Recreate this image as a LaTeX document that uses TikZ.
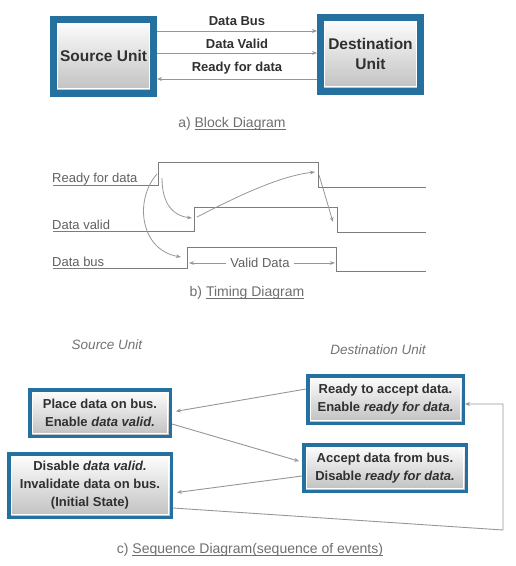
\documentclass[tikz,border=0pt]{standalone}
\usepackage{fontspec}
\setmainfont{Liberation Sans}
\usetikzlibrary{arrows.meta}
\definecolor{bbord}{HTML}{24709F}
\definecolor{txt}{HTML}{303030}
\definecolor{lbl}{HTML}{606060}
\definecolor{capc}{HTML}{6E6E6E}
\definecolor{wire}{HTML}{969696}
\definecolor{wavec}{HTML}{7C7C7C}
\newcommand\myul[1]{\setbox0\hbox{#1}\rlap{\rule[-1.6pt]{\wd0}{0.5pt}}\box0}
\tikzset{
  unitbox/.style={draw=bbord, line width=7pt, top color=white, bottom color=black!25,
    minimum width=100pt, minimum height=74pt, inner sep=0pt, align=center, text=txt,
    font=\fontsize{15.5}{20}\selectfont\bfseries,
    path picture={\draw[white, line width=1.2pt]
      ([shift={(4.2pt,-4.2pt)}]path picture bounding box.north west) rectangle
      ([shift={(-4.2pt,4.2pt)}]path picture bounding box.south east);}},
  seqbox/.style={draw=bbord, line width=3.5pt, top color=white, bottom color=black!25,
    inner sep=0pt, align=center, text=txt,
    font=\fontsize{13}{18}\selectfont\bfseries,
    path picture={\draw[white, line width=1pt]
      ([shift={(2.4pt,-2.4pt)}]path picture bounding box.north west) rectangle
      ([shift={(-2.4pt,2.4pt)}]path picture bounding box.south east);}},
  conn/.style={draw=wire, line width=0.9pt, -{Stealth[length=5pt,width=4pt]}},
  wlabel/.style={text=txt, font=\fontsize{13}{15}\selectfont\bfseries, inner sep=0pt},
  sig/.style={text=lbl, font=\fontsize{13}{15}\selectfont, inner sep=0pt},
  capt/.style={text=capc, font=\fontsize{14}{16}\selectfont, inner sep=0pt},
  unitlbl/.style={text=black!55, font=\fontsize{13.5}{16}\selectfont\itshape, inner sep=0pt},
  wave/.style={draw=wavec, line width=0.9pt},
  tarrow/.style={draw=wire, line width=0.8pt, -{Stealth[length=5pt,width=3.6pt]}}
}
\begin{document}
\begin{tikzpicture}[x=1pt, y=-1pt]
\useasboundingbox (0,0) rectangle (516,566);

% ---------- a) Block diagram ----------
\node[unitbox] (src) at (103.5,56) {Source Unit};
\node[unitbox] (dst) at (370.5,54) {Destination\\Unit};
\node[wlabel] (lbus) at (237,21) {Data Bus};
\node[wlabel] (lvalid) at (237,44) {Data Valid};
\node[wlabel] (lready) at (237,68) {Ready for data};
\draw[conn] (src.east |- 0,31) -- (dst.west |- 0,31);
\draw[conn] (src.east |- 0,53) -- (dst.west |- 0,53);
\draw[conn] (dst.west |- 0,79) -- (src.east |- 0,79);
\node[capt] (capa) at (232,124) {a) \myul{Block Diagram}};

% ---------- b) Timing diagram ----------
\node[sig, anchor=base west] (nready) at (52,182.5) {Ready for data};
\node[sig, anchor=base west] (nvalid) at (52,229) {Data valid};
\node[sig, anchor=base west] (nbus) at (52,266.5) {Data bus};

\coordinate (rrise) at (158,162);
\coordinate (rfall) at (318,162);
\coordinate (vrise) at (194,207);
\coordinate (vfall) at (337,207);
\coordinate (brise) at (187,247);
\coordinate (bfall) at (336,247);

\draw[wave] (53,185) -- (158,185) -- (rrise) -- (rfall) -- (318,187) -- (426,187);
\draw[wave] (53,231) -- (194,231) -- (vrise) -- (vfall) -- (337,232) -- (426,232);
\draw[wave] (53,268) -- (187,268) -- (brise) -- (bfall) -- (336,271) -- (426,271);

\node[sig] (vd) at (260,263) {Valid Data};
\coordinate (vdl) at (189,263);
\coordinate (vdr) at (335,263);
\draw[tarrow] (vd.west) ++(-4pt,0) -- (vdl);
\draw[tarrow] (vd.east) ++(4pt,0) -- (vdr);

\coordinate (a1s) at (157,174);
\coordinate (a1e) at (181,257);
\coordinate (a2s) at (162,178);
\coordinate (a2e) at (192,218);
\coordinate (a3s) at (197,217);
\coordinate (a3e) at (315,172);
\coordinate (a4s) at (319,175);
\coordinate (a4e) at (333,222);
\draw[tarrow] (a1s) .. controls (134,200) and (140,250) .. (a1e);
\draw[tarrow] (a2s) .. controls (162,205) and (174,216) .. (a2e);
\draw[tarrow] (a3s) .. controls (240,195) and (280,176) .. (a3e);
\draw[tarrow] (a4s) .. controls (325,195) .. (a4e);

\node[capt] (capb) at (247,293) {b) \myul{Timing Diagram}};

% ---------- c) Sequence diagram ----------
\node[unitlbl] (lsrc) at (107,345) {Source Unit};
\node[unitlbl] (ldst) at (378,350) {Destination Unit};

\node[seqbox, minimum width=155.5pt, minimum height=47.5pt] (rdy) at (385.5,399.5)
  {Ready to accept data.\\Enable \textit{ready for data.}};
\node[seqbox, minimum width=140.5pt, minimum height=46.5pt] (place) at (100,413)
  {Place data on bus.\\Enable \textit{data valid.}};
\node[seqbox, minimum width=162.5pt, minimum height=46.5pt] (accept) at (385,468)
  {Accept data from bus.\\Disable \textit{ready for data.}};
\node[seqbox, minimum width=162.5pt, minimum height=63.5pt] (disable) at (90,485.5)
  {Disable \textit{data valid.}\\Invalidate data on bus.\\(Initial State)};

\draw[conn, shorten >=4pt] (rdy.west |- 0,389) -- (place.east |- 0,412);
\draw[conn, shorten >=3pt] (place.east |- 0,424) -- (accept.west |- 0,462);
\draw[conn, shorten >=4pt] (accept.west |- 0,476) -- (disable.east |- 0,493);
\coordinate (ret1) at (503,530);
\coordinate (ret2) at (503,404);
\draw[conn] (disable.east |- 0,508) -- (ret1) -- (ret2) -- (rdy.east |- 0,404);

\node[capt] (capc) at (250,550) {c) \myul{Sequence Diagram(sequence of events)}};
\end{tikzpicture}
\end{document}
